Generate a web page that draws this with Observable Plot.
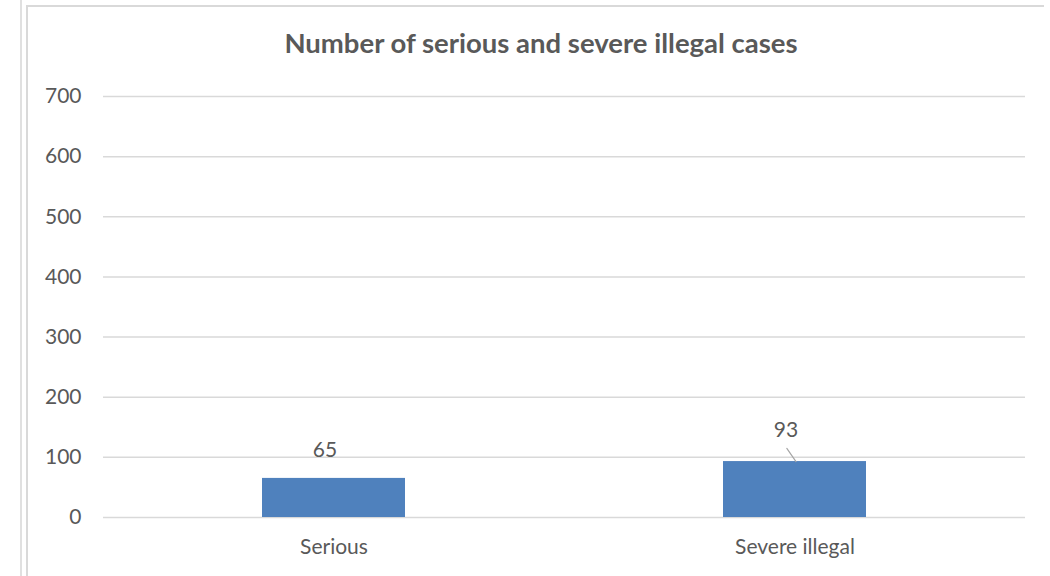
<!DOCTYPE html>
<html><head><meta charset="utf-8">
<script src="https://cdn.jsdelivr.net/npm/d3@7"></script>
<script src="https://cdn.jsdelivr.net/npm/@observablehq/plot@0.6"></script>
<style>
body{margin:0;background:#fff;font-family:Lato,sans-serif;}
#wrap{position:relative;width:1050px;height:576px;overflow:hidden;}
#lline{position:absolute;left:20px;top:0;width:2px;height:576px;background:#e0e0e0;}
#frame{position:absolute;left:26px;top:5px;width:1016px;height:600px;border-top:2px solid #d9d9d9;border-left:2px solid #d9d9d9;}
#title{position:absolute;left:0;top:26px;width:1082px;text-align:center;font:bold 27.5px Lato,sans-serif;color:#595959;white-space:nowrap;}
#chart{position:absolute;left:0;top:70px;}
</style></head>
<body><div id="wrap"><div id="lline"></div><div id="frame"></div>
<div id="title">Number of serious and severe illegal cases</div>
<div id="chart"></div></div>
<script>
const categories = ["Serious", "Severe illegal"];
const values = [65, 93];
const yTicks = [0, 100, 200, 300, 400, 500, 600, 700];
const data = categories.map((c, i) => ({cat: c, value: values[i]}));
const txt = "#595959";
const chart = Plot.plot({
  width: 1050, height: 506,
  marginLeft: 103, marginRight: 25, marginTop: 26, marginBottom: 59,
  style: {fontFamily: "Lato, sans-serif", fontSize: "21px", color: txt, background: "transparent"},
  x: {domain: categories, paddingInner: 0.69, paddingOuter: 0.345, label: null, tickSize: 0, tickPadding: 22},
  y: {domain: [0, 700], ticks: yTicks, label: null, tickSize: 0, tickPadding: 22, grid: false},
  marks: [
    Plot.gridY(yTicks, {stroke: "#d9d9d9", strokeOpacity: 1, strokeWidth: 1.5}),
    Plot.barY(data, {x: "cat", y: "value", fill: "#4f81bd"}),
    Plot.text(data.filter(d => d.cat === categories[0]), {x: "cat", y: "value", text: d => String(d.value), dx: -9, dy: -28, fill: txt, fontSize: 21}),
    Plot.text(data.filter(d => d.cat === categories[1]), {x: "cat", y: "value", text: d => String(d.value), dx: -9, dy: -31, fill: txt, fontSize: 21}),
    Plot.vector(data.filter(d => d.cat === categories[1]), {x: "cat", y: "value", dx: 1, length: 16, rotate: -35, anchor: "start", stroke: "#a6a6a6", strokeWidth: 1.2,
      shape: {draw(context, l) { context.moveTo(0, 0); context.lineTo(0, -l); }}})
  ]
});
document.getElementById("chart").appendChild(chart);
</script></body></html>
